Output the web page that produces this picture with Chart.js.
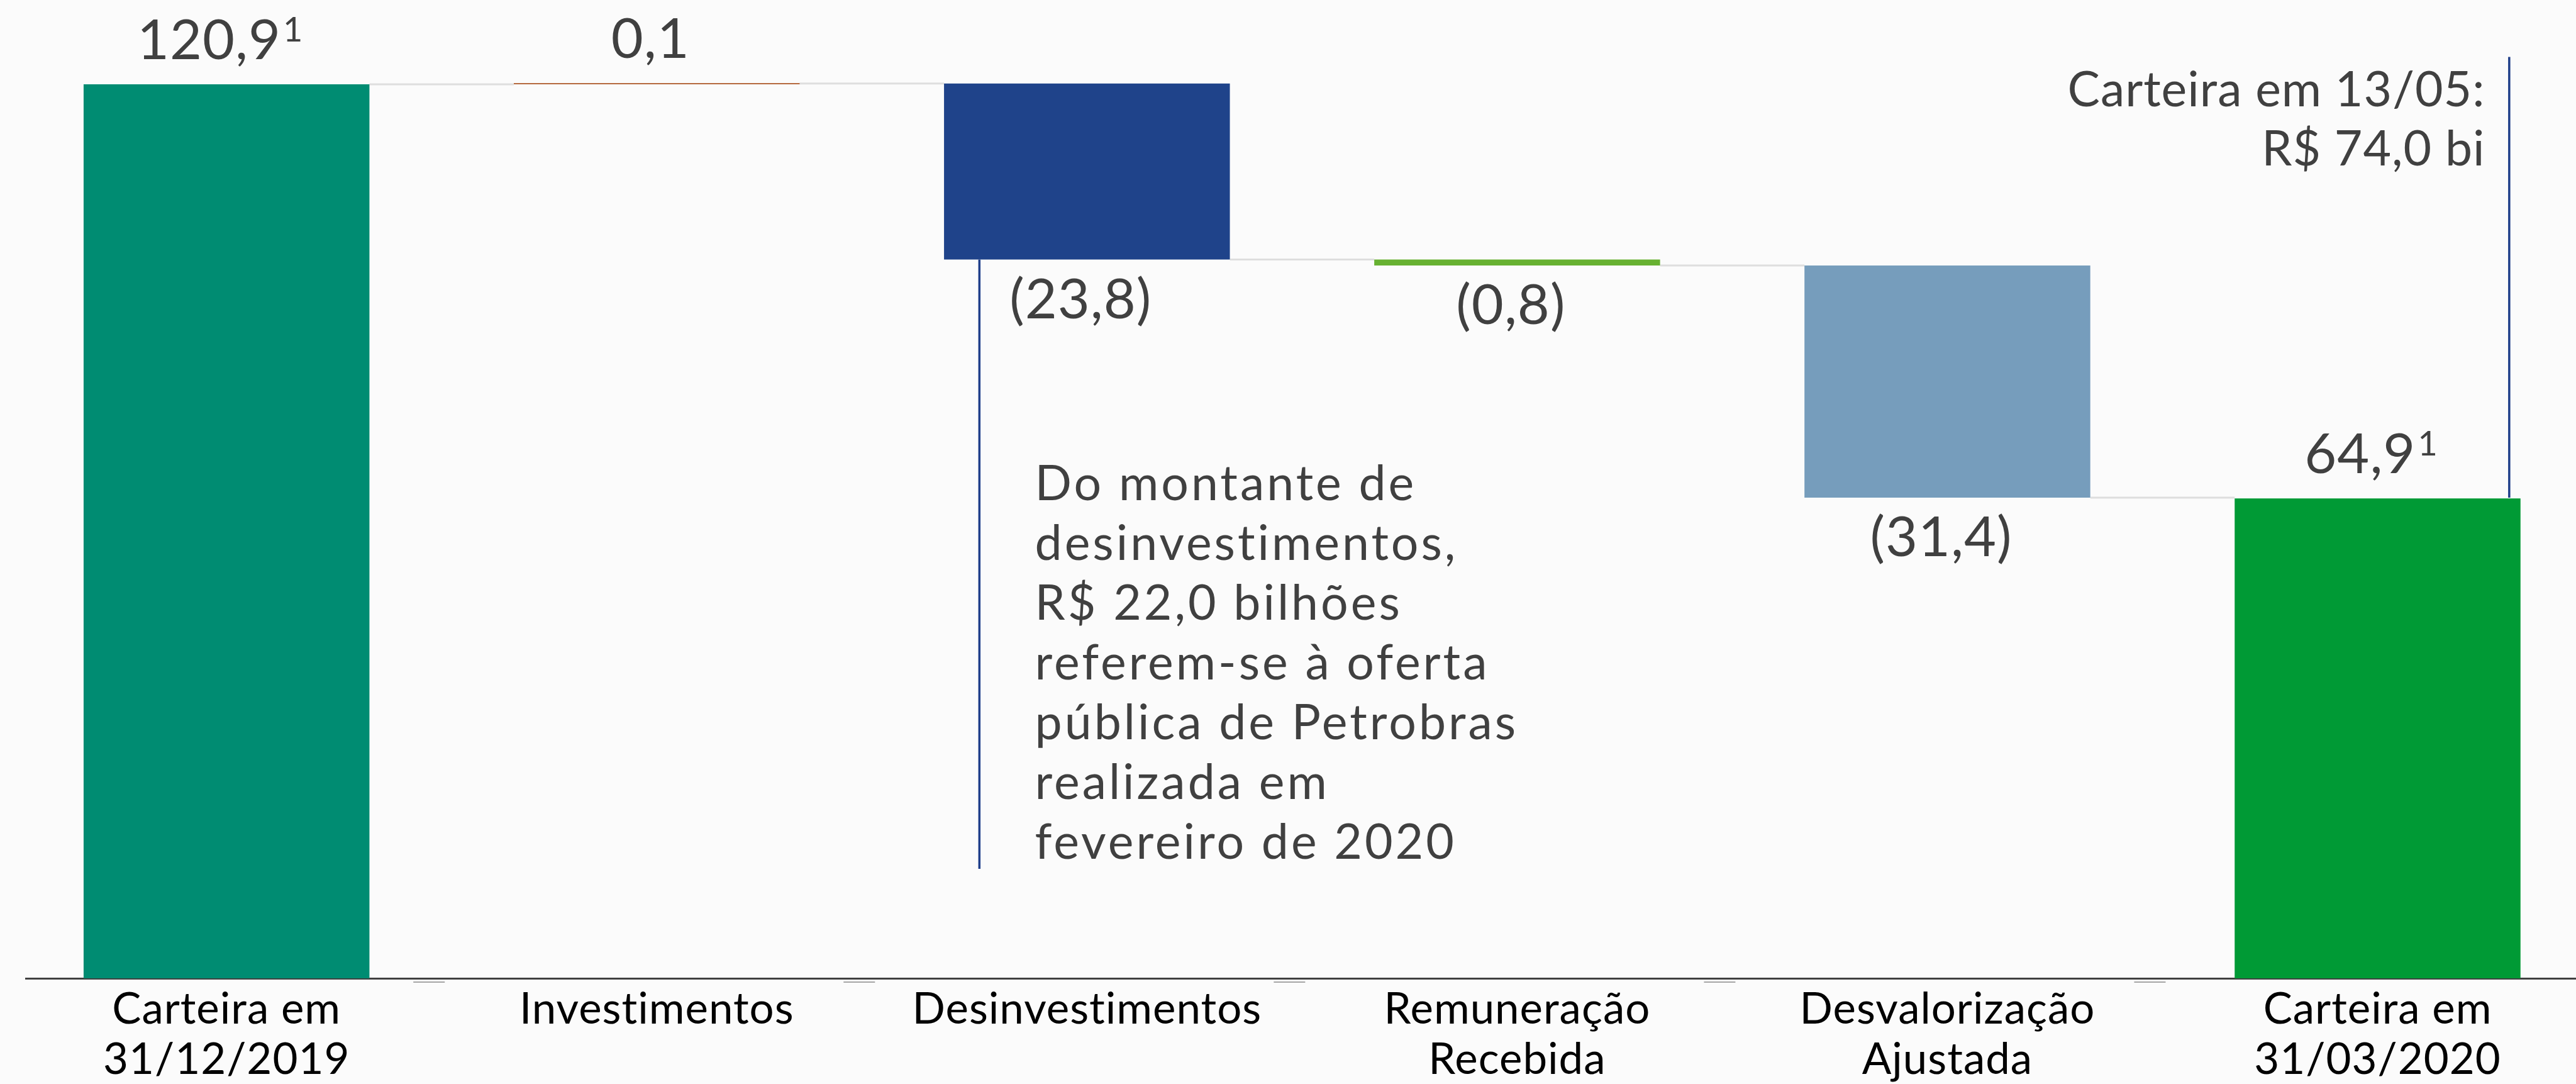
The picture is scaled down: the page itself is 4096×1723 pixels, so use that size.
<!DOCTYPE html>
<html>
<head>
<meta charset="utf-8">
<script src="https://cdn.jsdelivr.net/npm/chart.js@4.4.0/dist/chart.umd.min.js"></script>
<style>
  html, body { margin: 0; padding: 0; background: #fbfbfb; overflow: hidden; }
  #c { display: block; }
</style>
</head>
<body>
<canvas id="c" width="4096" height="1723"></canvas>
<script>
// chart data
const categories = [['Carteira em', '31/12/2019'], 'Investimentos', 'Desinvestimentos', ['Remuneração', 'Recebida'], ['Desvalorização', 'Ajustada'], ['Carteira em', '31/03/2020']];
const steps = [120.9, 0.1, -23.8, -0.8, -31.4, 64.9];
const isTotal = [true, false, false, false, false, true];
const footnotes = ['1', '', '', '', '', '1'];
const barColors = ['#008C72', '#B5693F', '#1F438A', '#67B131', '#769DBC', '#009A35'];

const noteDesinv = ['Do montante de', 'desinvestimentos,', 'R$ 22,0 bilhões', 'referem-se à oferta', 'pública de Petrobras', 'realizada em', 'fevereiro de 2020'];
const noteCarteira = ['Carteira em 13/05:', 'R$ 74,0 bi'];

// running totals -> floating bars
let run = 0;
const ranges = steps.map((v, i) => {
  if (isTotal[i]) { run = v; return [0, v]; }
  const r = [run, run + v];
  run += v;
  return r;
});

function fmt(v) {
  const s = Math.abs(v).toFixed(1).replace('.', ',');
  return v < 0 ? '(' + s + ')' : s;
}

const TEXT = '#404040';
const FONT = 'Lato';

const waterfallExtras = {
  id: 'waterfallExtras',
  beforeDraw(chart) {
    // wider tracking, also stops the "ti" ligature in tick labels
    chart.ctx.letterSpacing = '1px';
  },
  beforeDatasetsDraw(chart) {
    const { ctx, scales: { y } } = chart;
    const bars = chart.getDatasetMeta(0).data;
    ctx.save();
    ctx.strokeStyle = '#dedede';
    ctx.lineWidth = 3;
    for (let i = 0; i < bars.length - 1; i++) {
      const py = y.getPixelForValue(ranges[i][1]);
      ctx.beginPath();
      ctx.moveTo(bars[i].x + bars[i].width / 2, py);
      ctx.lineTo(bars[i + 1].x - bars[i + 1].width / 2, py);
      ctx.stroke();
    }
    ctx.restore();
  },
  afterDatasetsDraw(chart) {
    const { ctx, scales: { x, y }, chartArea } = chart;
    const bars = chart.getDatasetMeta(0).data;
    ctx.save();
    ctx.fillStyle = TEXT;
    ctx.textBaseline = 'alphabetic';
    ctx.textAlign = 'left';
    ctx.letterSpacing = '1px';

    // value labels
    bars.forEach((bar, i) => {
      const top = Math.min(bar.y, bar.base);
      const bottom = Math.max(bar.y, bar.base);
      const up = isTotal[i] || steps[i] >= 0;
      const main = fmt(steps[i]);
      ctx.font = '88px ' + FONT;
      const w1 = ctx.measureText(main).width;
      ctx.font = '54px ' + FONT;
      const w2 = footnotes[i] ? ctx.measureText(footnotes[i]).width + 3 : 0;
      const left = bar.x - 10 - (w1 + w2) / 2;
      const base = up ? top - 40 : bottom + 93;
      ctx.font = '88px ' + FONT;
      ctx.fillText(main, left, base);
      if (footnotes[i]) {
        ctx.font = '54px ' + FONT;
        ctx.fillText(footnotes[i], left + w1 + 3, base - 28);
      }
    });

    // small grey marks under the axis
    ctx.strokeStyle = '#a6a6a6';
    ctx.lineWidth = 2;
    [0.5, 1.5, 2.5, 3.5, 4.5].forEach(b => {
      const px = x.getPixelForValue(b);
      ctx.beginPath();
      ctx.moveTo(px - 45, chartArea.bottom + 6);
      ctx.lineTo(px + 5, chartArea.bottom + 6);
      ctx.stroke();
    });

    // annotation lines
    ctx.strokeStyle = '#1F3F8A';
    ctx.lineWidth = 3.5;
    ctx.beginPath();
    ctx.moveTo(x.getPixelForValue(1.75), y.getPixelForValue(ranges[2][1]));
    ctx.lineTo(x.getPixelForValue(1.75), y.getPixelForValue(14.8));
    ctx.moveTo(x.getPixelForValue(5.306), y.getPixelForValue(124.6));
    ctx.lineTo(x.getPixelForValue(5.306), y.getPixelForValue(65.0));
    ctx.stroke();

    // annotation texts
    ctx.font = '77px ' + FONT;
    ctx.textAlign = 'left';
    ctx.letterSpacing = '4px';
    let bx = x.getPixelForValue(1.879);
    let by = y.getPixelForValue(64.7);
    noteDesinv.forEach((t, k) => ctx.fillText(t, bx, by + k * 95));
    ctx.textAlign = 'right';
    ctx.letterSpacing = '1px';
    bx = x.getPixelForValue(5.25);
    by = y.getPixelForValue(117.9);
    noteCarteira.forEach((t, k) => ctx.fillText(t, bx, by + k * 94));
    ctx.restore();
  }
};

new Chart(document.getElementById('c'), {
  type: 'bar',
  data: {
    datasets: [{
      data: ranges.map((r, i) => ({ x: i, y: r })),
      backgroundColor: barColors,
      borderWidth: 0,
      minBarLength: 2,
      barPercentage: 0.6644,
      categoryPercentage: 1
    }]
  },
  options: {
    responsive: false,
    animation: false,
    layout: { padding: { left: 41, right: 0, top: 27, bottom: 0 } },
    plugins: { legend: { display: false }, tooltip: { enabled: false } },
    scales: {
      x: {
        type: 'linear',
        offset: false,
        min: -0.4666,
        max: 5.4612,
        grid: { display: false, drawTicks: false },
        border: { display: true, color: '#404040', width: 3 },
        afterBuildTicks: axis => { axis.ticks = categories.map((c, i) => ({ value: i })); },
        afterFit: axis => { axis.height = 168; },
        ticks: {
          autoSkip: false,
          maxRotation: 0,
          padding: 9,
          color: '#000',
          font: { family: FONT, size: 69, lineHeight: 1.17 },
          callback: v => categories[v]
        }
      },
      y: {
        display: false,
        min: 0,
        max: 130
      }
    }
  },
  plugins: [waterfallExtras]
});
</script>
</body>
</html>
